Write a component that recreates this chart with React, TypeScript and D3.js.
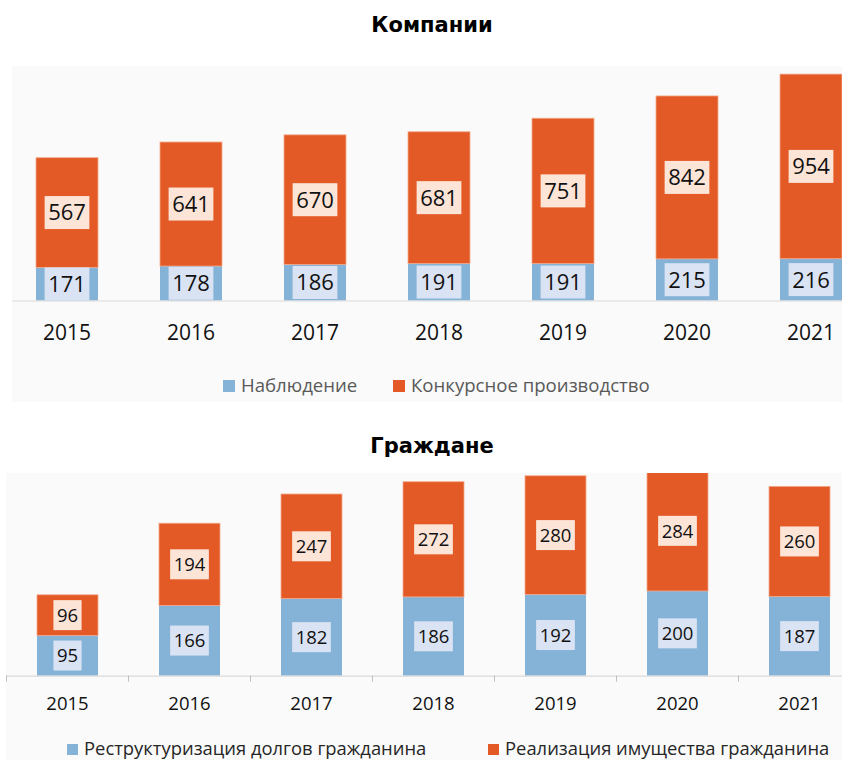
import React, { useEffect, useRef } from "react";
import * as d3 from "d3";

const years = ["2015", "2016", "2017", "2018", "2019", "2020", "2021"];
const companiesObservation = [171, 178, 186, 191, 191, 215, 216];
const companiesBankruptcy = [567, 641, 670, 681, 751, 842, 954];
const citizensRestructuring = [95, 166, 182, 186, 192, 200, 187];
const citizensRealization = [96, 194, 247, 272, 280, 284, 260];

const topTitle = "Компании";
const bottomTitle = "Граждане";
const topLegend = ["Наблюдение", "Конкурсное производство"];
const bottomLegend = ["Реструктуризация долгов гражданина", "Реализация имущества гражданина"];

const BLUE = "#85b3d7";
const ORANGE = "#e45a27";
const BLUE_BOX = "#dae3f3";
const ORANGE_BOX = "#fce4d6";
const FONT = "'Open Sans', 'Noto Sans', sans-serif";

const W = 842;
const H = 760;

export default function App() {
  const ref = useRef<SVGSVGElement | null>(null);

  useEffect(() => {
    const svg = d3.select(ref.current);
    svg.selectAll("*").remove();

    const defs = svg.append("defs");

    type Cfg = {
      id: string;
      title: string;
      titleY: number;
      panel: [number, number, number, number];
      xRange: [number, number];
      yDomainMax: number;
      yRange: [number, number];
      lower: number[];
      upper: number[];
      labelFont: number;
      boxH: number;
      yearFont: number;
      yearY: number;
      ticks: boolean;
      legend: string[];
      legendY: number;
      legendX: [number, number];
      legendSq: number;
      legendFont: number;
      legendColor: string;
    };

    const draw = (c: Cfg) => {
      const g = svg.append("g");
      const [px, py, pw, ph] = c.panel;
      g.append("rect").attr("x", px).attr("y", py).attr("width", pw).attr("height", ph).attr("fill", "#fafafa");

      g.append("text")
        .attr("x", 432)
        .attr("y", c.titleY)
        .attr("text-anchor", "middle")
        .attr("font-family", "'DejaVu Sans', Verdana, sans-serif")
        .attr("font-weight", "bold")
        .attr("font-size", 21)
        .attr("fill", "#000")
        .text(c.title);

      const x = d3.scaleBand<string>().domain(years).range(c.xRange).paddingInner(0.5).paddingOuter(0.25);
      const y = d3.scaleLinear().domain([0, c.yDomainMax]).range(c.yRange);

      defs.append("clipPath").attr("id", c.id).append("rect")
        .attr("x", px).attr("y", py).attr("width", pw).attr("height", ph);

      const bars = g.append("g").attr("clip-path", `url(#${c.id})`);
      const base = y(0);

      g.append("line")
        .attr("x1", px).attr("x2", W)
        .attr("y1", base + 0.5).attr("y2", base + 0.5)
        .attr("stroke", "#d9d9d9").attr("stroke-width", 1.2);

      if (c.ticks) {
        const step = x.step();
        for (let i = 0; i <= years.length; i++) {
          const tx = (x(years[0]) as number) + x.bandwidth() / 2 - step / 2 + i * step;
          g.append("line")
            .attr("x1", tx).attr("x2", tx)
            .attr("y1", base).attr("y2", base + 6)
            .attr("stroke", "#bfbfbf").attr("stroke-width", 1);
        }
      }

      years.forEach((yr, i) => {
        const bx = x(yr) as number;
        const bw = x.bandwidth();
        const lo = c.lower[i];
        const up = c.upper[i];
        bars.append("rect").attr("x", bx).attr("y", y(lo)).attr("width", bw).attr("height", base - y(lo)).attr("fill", BLUE);
        bars.append("rect").attr("x", bx).attr("y", y(lo + up)).attr("width", bw).attr("height", y(lo) - y(lo + up))
          .attr("fill", ORANGE).attr("stroke", "#f2a98a").attr("stroke-width", 0.8);

        const addLabel = (val: number, cy: number, fill: string) => {
          const lg = g.append("g");
          const rect = lg.append("rect");
          const t = lg.append("text")
            .attr("x", bx + bw / 2)
            .attr("y", cy + c.labelFont * 0.36)
            .attr("text-anchor", "middle")
            .attr("font-family", FONT)
            .attr("font-size", c.labelFont)
            .attr("fill", "#111")
            .text(String(val));
          const tw = (t.node() as SVGTextElement).getComputedTextLength();
          const w = tw + 7;
          rect.attr("x", bx + bw / 2 - w / 2).attr("y", cy - c.boxH / 2).attr("width", w).attr("height", c.boxH).attr("fill", fill);
        };
        addLabel(lo, (base + y(lo)) / 2, BLUE_BOX);
        addLabel(up, (y(lo) + y(lo + up)) / 2, ORANGE_BOX);

        g.append("text")
          .attr("x", bx + bw / 2)
          .attr("y", c.yearY)
          .attr("text-anchor", "middle")
          .attr("font-family", FONT)
          .attr("font-size", c.yearFont)
          .attr("fill", "#111")
          .text(yr);
      });

      const colors = [BLUE, ORANGE];
      c.legend.forEach((name, i) => {
        const lx = c.legendX[i];
        g.append("rect")
          .attr("x", lx).attr("y", c.legendY - c.legendSq)
          .attr("width", c.legendSq).attr("height", c.legendSq)
          .attr("fill", colors[i]);
        g.append("text")
          .attr("x", lx + c.legendSq + 6)
          .attr("y", c.legendY)
          .attr("font-family", FONT)
          .attr("font-size", c.legendFont)
          .attr("fill", c.legendColor)
          .text(name);
      });
    };

    draw({
      id: "clipTop",
      title: topTitle,
      titleY: 32,
      panel: [12, 66, W - 12, 336],
      xRange: [5, 5 + 124 * 7],
      yDomainMax: 1200,
      yRange: [300.5, 68.3],
      lower: companiesObservation,
      upper: companiesBankruptcy,
      labelFont: 22,
      boxH: 33,
      yearFont: 21,
      yearY: 340,
      ticks: false,
      legend: topLegend,
      legendY: 392,
      legendX: [223, 393],
      legendSq: 12,
      legendFont: 18.6,
      legendColor: "#595959",
    });

    draw({
      id: "clipBottom",
      title: bottomTitle,
      titleY: 452.5,
      panel: [6, 473, W - 6, H - 473],
      xRange: [6.5, 6.5 + 122 * 7],
      yDomainMax: 480,
      yRange: [675.7, 472.4],
      lower: citizensRestructuring,
      upper: citizensRealization,
      labelFont: 18.5,
      boxH: 30,
      yearFont: 18.5,
      yearY: 710,
      ticks: true,
      legend: bottomLegend,
      legendY: 755,
      legendX: [67, 488],
      legendSq: 11,
      legendFont: 18.4,
      legendColor: "#262626",
    });
  }, []);

  return (
    <svg
      ref={ref}
      width={W}
      height={H}
      style={{ position: "absolute", left: 0, top: 0, background: "#fff" }}
    />
  );
}
